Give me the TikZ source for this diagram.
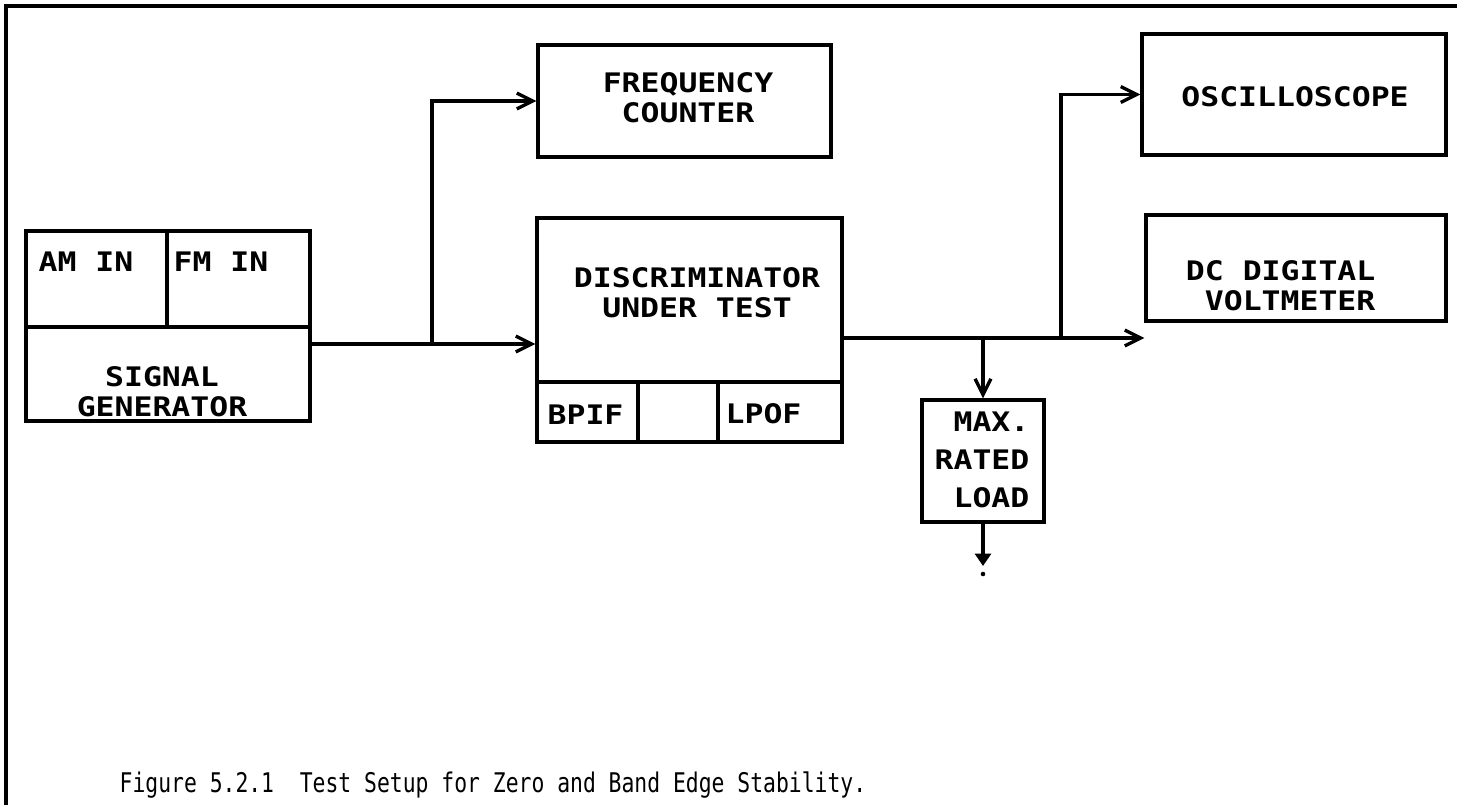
\documentclass[tikz,border=0pt]{standalone}
\usepackage{fontspec}
\newfontfamily\boxfont{DejaVu Sans Mono}[FakeStretch=1.17]
\newfontfamily\capfont{DejaVu Sans Mono}[FakeStretch=0.79]
\usetikzlibrary{arrows.meta,positioning}

\begin{document}
\begin{tikzpicture}[x=0.2mm,y=-0.2mm,line width=1.9pt,
  font=\boxfont\bfseries\fontsize{15.3}{17}\selectfont,
  box/.style={draw,inner sep=0pt},
  txt/.style={inner sep=0pt,align=center},
  >={Straight Barb[length=9pt,width=9pt]}]
\useasboundingbox (0,0) rectangle (1457,805);
\draw[line width=1.8pt] (6,805) -- (6,6) -- (1457,6);
% signal generator
\node[box,minimum width=2.82cm,minimum height=1.92cm] (amin) at (96.5,279) {};
\node[box,minimum width=2.86cm,minimum height=1.92cm] (fmin) at (238.5,279) {};
\node[box,minimum width=5.68cm,minimum height=1.88cm] (siggen) at (168,374) {};
\node[txt,anchor=west] (amtxt) at (37,262) {AM IN};
\node[txt,anchor=west] (fmtxt) at (172,262) {FM IN};
\node[txt] (gentxt) at (162,392) {SIGNAL\\GENERATOR};
% counter and discriminator
\node[box,minimum width=5.86cm,minimum height=2.24cm] (freq) at (684.5,101) {};
\node[txt] (freqtxt) at (688,98) {FREQUENCY\\COUNTER};
\node[box,minimum width=6.10cm,minimum height=3.28cm] (disc) at (689.5,300) {};
\node[txt] (disctxt) at (697,293) {DISCRIMINATOR\\UNDER TEST};
\node[box,minimum width=2.02cm,minimum height=1.2cm] (bpif) at (587.5,412) {};
\node[box,minimum width=1.6cm,minimum height=1.2cm] (gap) at (678,412) {};
\node[box,minimum width=2.48cm,minimum height=1.2cm] (lpof) at (780,412) {};
\node[txt,anchor=west] (bpiftxt) at (546,415) {BPIF};
\node[txt,anchor=west] (lpoftxt) at (724,414) {LPOF};
% load and meters
\node[box,minimum width=2.44cm,minimum height=2.44cm] (load) at (983,461) {};
\node[txt,anchor=east,align=right,font=\boxfont\bfseries\fontsize{15.3}{21.6}\selectfont] (loadtxt) at (1031,460) {MAX.\\RATED\\LOAD};
\node[box,minimum width=6.08cm,minimum height=2.42cm] (osc) at (1294,94.5) {};
\node[txt] (osctxt) at (1295,97) {OSCILLOSCOPE};
\node[box,minimum width=6.0cm,minimum height=2.12cm] (dvm) at (1296,268) {};
\node[txt,anchor=east,align=right] (dvmtxt) at (1377,286) {DC DIGITAL\\VOLTMETER};
% wiring
\coordinate (sigout) at (310,344);
\coordinate (j1) at (432,344);
\coordinate (discout) at (842,338);
\coordinate (j2) at (983,338);
\coordinate (j3) at (1061,338);
\coordinate (gnd) at (983,566);
\draw[->] (sigout) -- (sigout -| disc.west);
\draw[->] (j1) |- (freq.west);
\draw[->] (discout) -- (discout -| dvm.west);
\draw[->] (j2) -- (load.north);
\draw[->] (j3) |- (osc.west);
\draw[-{Triangle[length=7pt,width=9pt]}] (load.south) -- (gnd);
\fill (983,574) circle (1.3pt);
\node[anchor=base west,inner sep=0pt,font=\capfont\fontsize{15.4}{17}\selectfont] (caption) at (118,792) {Figure 5.2.1\ \ Test Setup for Zero and Band Edge Stability.};
\end{tikzpicture}
\end{document}
